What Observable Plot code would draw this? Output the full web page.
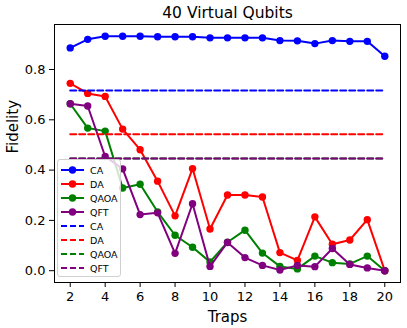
<!DOCTYPE html>
<html><head><meta charset="utf-8">
<script src="https://cdn.jsdelivr.net/npm/d3@7"></script>
<script src="https://cdn.jsdelivr.net/npm/@observablehq/plot@0.6"></script>
<style>
body{margin:0;background:#fff;font-family:"DejaVu Sans",sans-serif;}
#wrap{position:relative;width:407px;height:328px;}
#legend{position:absolute;left:57px;top:159px;width:64px;height:118px;box-sizing:border-box;border:1px solid #d0d0d0;border-radius:3px;background:rgba(255,255,255,0.8);}
.row{position:absolute;left:0;height:14px;display:flex;align-items:center;font-size:9.5px;color:#000;}
.row svg{margin-left:3px;margin-right:6px;}
</style>
</head><body>
<div id="wrap"><div id="legend"></div></div>
<script>
const traps = [2,3,4,5,6,7,8,9,10,11,12,13,14,15,16,17,18,19,20];
const seriesNames = ["CA","DA","QAOA","QFT"];
const seriesColors = ["blue","red","green","purple"];
const caValues   = [0.886,0.920,0.932,0.932,0.932,0.930,0.930,0.930,0.926,0.926,0.926,0.926,0.915,0.914,0.903,0.915,0.912,0.912,0.853];
const daValues   = [0.745,0.705,0.693,0.563,0.481,0.356,0.218,0.406,0.166,0.301,0.301,0.293,0.072,0.041,0.214,0.105,0.122,0.203,0.0];
const qaoaValues = [0.664,0.567,0.555,0.329,0.344,0.234,0.141,0.093,0.035,0.113,0.161,0.070,0.017,0.007,0.058,0.032,0.027,0.058,0.0];
const qftValues  = [0.664,0.655,0.454,0.405,0.223,0.230,0.069,0.266,0.017,0.112,0.052,0.021,0.003,0.021,0.016,0.088,0.025,0.011,0.0];
const refLevels  = [0.717,0.543,0.446,0.446];
const xTicks = [2,4,6,8,10,12,14,16,18,20];
const yTicks = [0.0,0.2,0.4,0.6,0.8];

const allValues = [caValues,daValues,qaoaValues,qftValues];
const solid = [];
seriesNames.forEach((s,i)=>traps.forEach((t,j)=>solid.push({series:s,trap:t,value:allValues[i][j]})));
const dashed = [];
seriesNames.forEach((s,i)=>[traps[0],traps[traps.length-1]].forEach(t=>dashed.push({series:s,trap:t,value:refLevels[i]})));
const colorOf = s => seriesColors[seriesNames.indexOf(s)];

const marks = [];
seriesNames.forEach(s=>{
  const d = solid.filter(r=>r.series===s);
  marks.push(Plot.line(d,{x:"trap",y:"value",stroke:colorOf(s),strokeWidth:2}));
  marks.push(Plot.dot(d,{x:"trap",y:"value",fill:colorOf(s),r:3.7}));
});
seriesNames.forEach(s=>{
  marks.push(Plot.line(dashed.filter(r=>r.series===s),{x:"trap",y:"value",stroke:colorOf(s),strokeWidth:2,strokeDasharray:"6,3"}));
});

const chart = Plot.plot({
  width:407,height:328,
  marginTop:24,marginRight:7,marginBottom:46,marginLeft:54,
  style:{fontFamily:"DejaVu Sans, sans-serif",background:"transparent",color:"black"},
  x:{domain:[1.1,20.9]},
  y:{domain:[-0.047,0.979]},
  marks:[
    Plot.axisX({ticks:xTicks,tickFormat:d=>String(d),tickSize:5,tickPadding:4,fontSize:13,label:null}),
    Plot.axisY({ticks:yTicks,tickFormat:d3.format(".1f"),tickSize:5,tickPadding:4,fontSize:13,label:null}),
    ...marks,
    Plot.frame({stroke:"black",strokeWidth:1}),
    Plot.text(["40 Virtual Qubits"],{frameAnchor:"top",dy:-18,fontSize:15.5,text:d=>d}),
    Plot.text(["Traps"],{frameAnchor:"bottom",dy:39,fontSize:15,text:d=>d}),
    Plot.text(["Fidelity"],{frameAnchor:"left",dx:-41,rotate:-90,fontSize:15,text:d=>d})
  ]
});
document.getElementById("wrap").insertBefore(chart, document.getElementById("legend"));
chart.style.position="absolute";chart.style.left="0";chart.style.top="0";

const legend = document.getElementById("legend");
const entries = [];
seriesNames.forEach((s,i)=>entries.push({name:s,color:seriesColors[i],dash:false}));
seriesNames.forEach((s,i)=>entries.push({name:s,color:seriesColors[i],dash:true}));
entries.forEach((e,k)=>{
  const row = document.createElement("div");
  row.className="row";
  row.style.top=(3+k*14)+"px";
  const ns="http://www.w3.org/2000/svg";
  const svg=document.createElementNS(ns,"svg");
  svg.setAttribute("width","23");svg.setAttribute("height","10");
  const ln=document.createElementNS(ns,"line");
  ln.setAttribute("x1","0");ln.setAttribute("x2","23");ln.setAttribute("y1","5");ln.setAttribute("y2","5");
  ln.setAttribute("stroke",e.color);ln.setAttribute("stroke-width","2");
  if(e.dash) ln.setAttribute("stroke-dasharray","6,3");
  svg.appendChild(ln);
  if(!e.dash){const c=document.createElementNS(ns,"circle");c.setAttribute("cx","11.5");c.setAttribute("cy","5");c.setAttribute("r","3.7");c.setAttribute("fill",e.color);svg.appendChild(c);}
  row.appendChild(svg);
  const t=document.createElement("span");t.textContent=e.name;row.appendChild(t);
  legend.appendChild(row);
});
</script>
</body></html>
